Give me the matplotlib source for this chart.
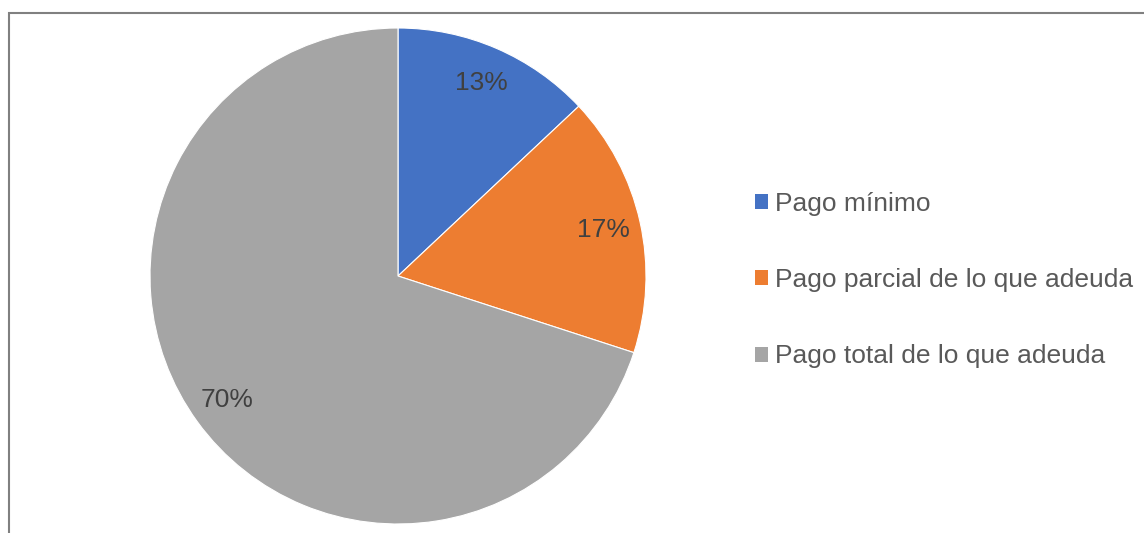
import matplotlib.pyplot as plt
from matplotlib.patches import Patch, Rectangle

categorias = ["Pago mínimo", "Pago parcial de lo que adeuda", "Pago total de lo que adeuda"]
porcentajes = [13, 17, 70]
colores = ["#4472C4", "#ED7D31", "#A5A5A5"]

plt.rcParams['font.family'] = ['Liberation Sans', 'DejaVu Sans']

W, H = 1144, 533
fig = plt.figure(figsize=(W / 100, H / 100), dpi=100)

# marco gris del grafico
fig.patches.append(Rectangle((8.5 / W, -0.1), 2, (H - 12.5) / H + 0.1,
                             transform=fig.transFigure, fill=False,
                             edgecolor="#808080", linewidth=1.5))

cx, cy, r = 398, 276, 248
ax = fig.add_axes([(cx - r) / W, (H - cy - r) / H, 2 * r / W, 2 * r / H])
wedges, textos, autotextos = ax.pie(porcentajes, colors=colores, startangle=90,
                                    counterclock=False, autopct="%1.0f%%",
                                    pctdistance=0.85,
                                    wedgeprops=dict(edgecolor="white", linewidth=0.8),
                                    textprops=dict(color="#404040", fontsize=19))
ax.set_xlim(-1, 1)
ax.set_ylim(-1, 1)

handles = [Patch(facecolor=c, edgecolor="none") for c in colores]
fig.legend(handles, categorias, loc="upper left", bbox_to_anchor=(755 / W, 1 - 192 / H),
           frameon=False, fontsize=19, labelcolor="#595959",
           handlelength=0.5, handleheight=0.5, handletextpad=0.25,
           labelspacing=1.98, borderpad=0, borderaxespad=0)

fig.savefig("out.png", dpi=100)
